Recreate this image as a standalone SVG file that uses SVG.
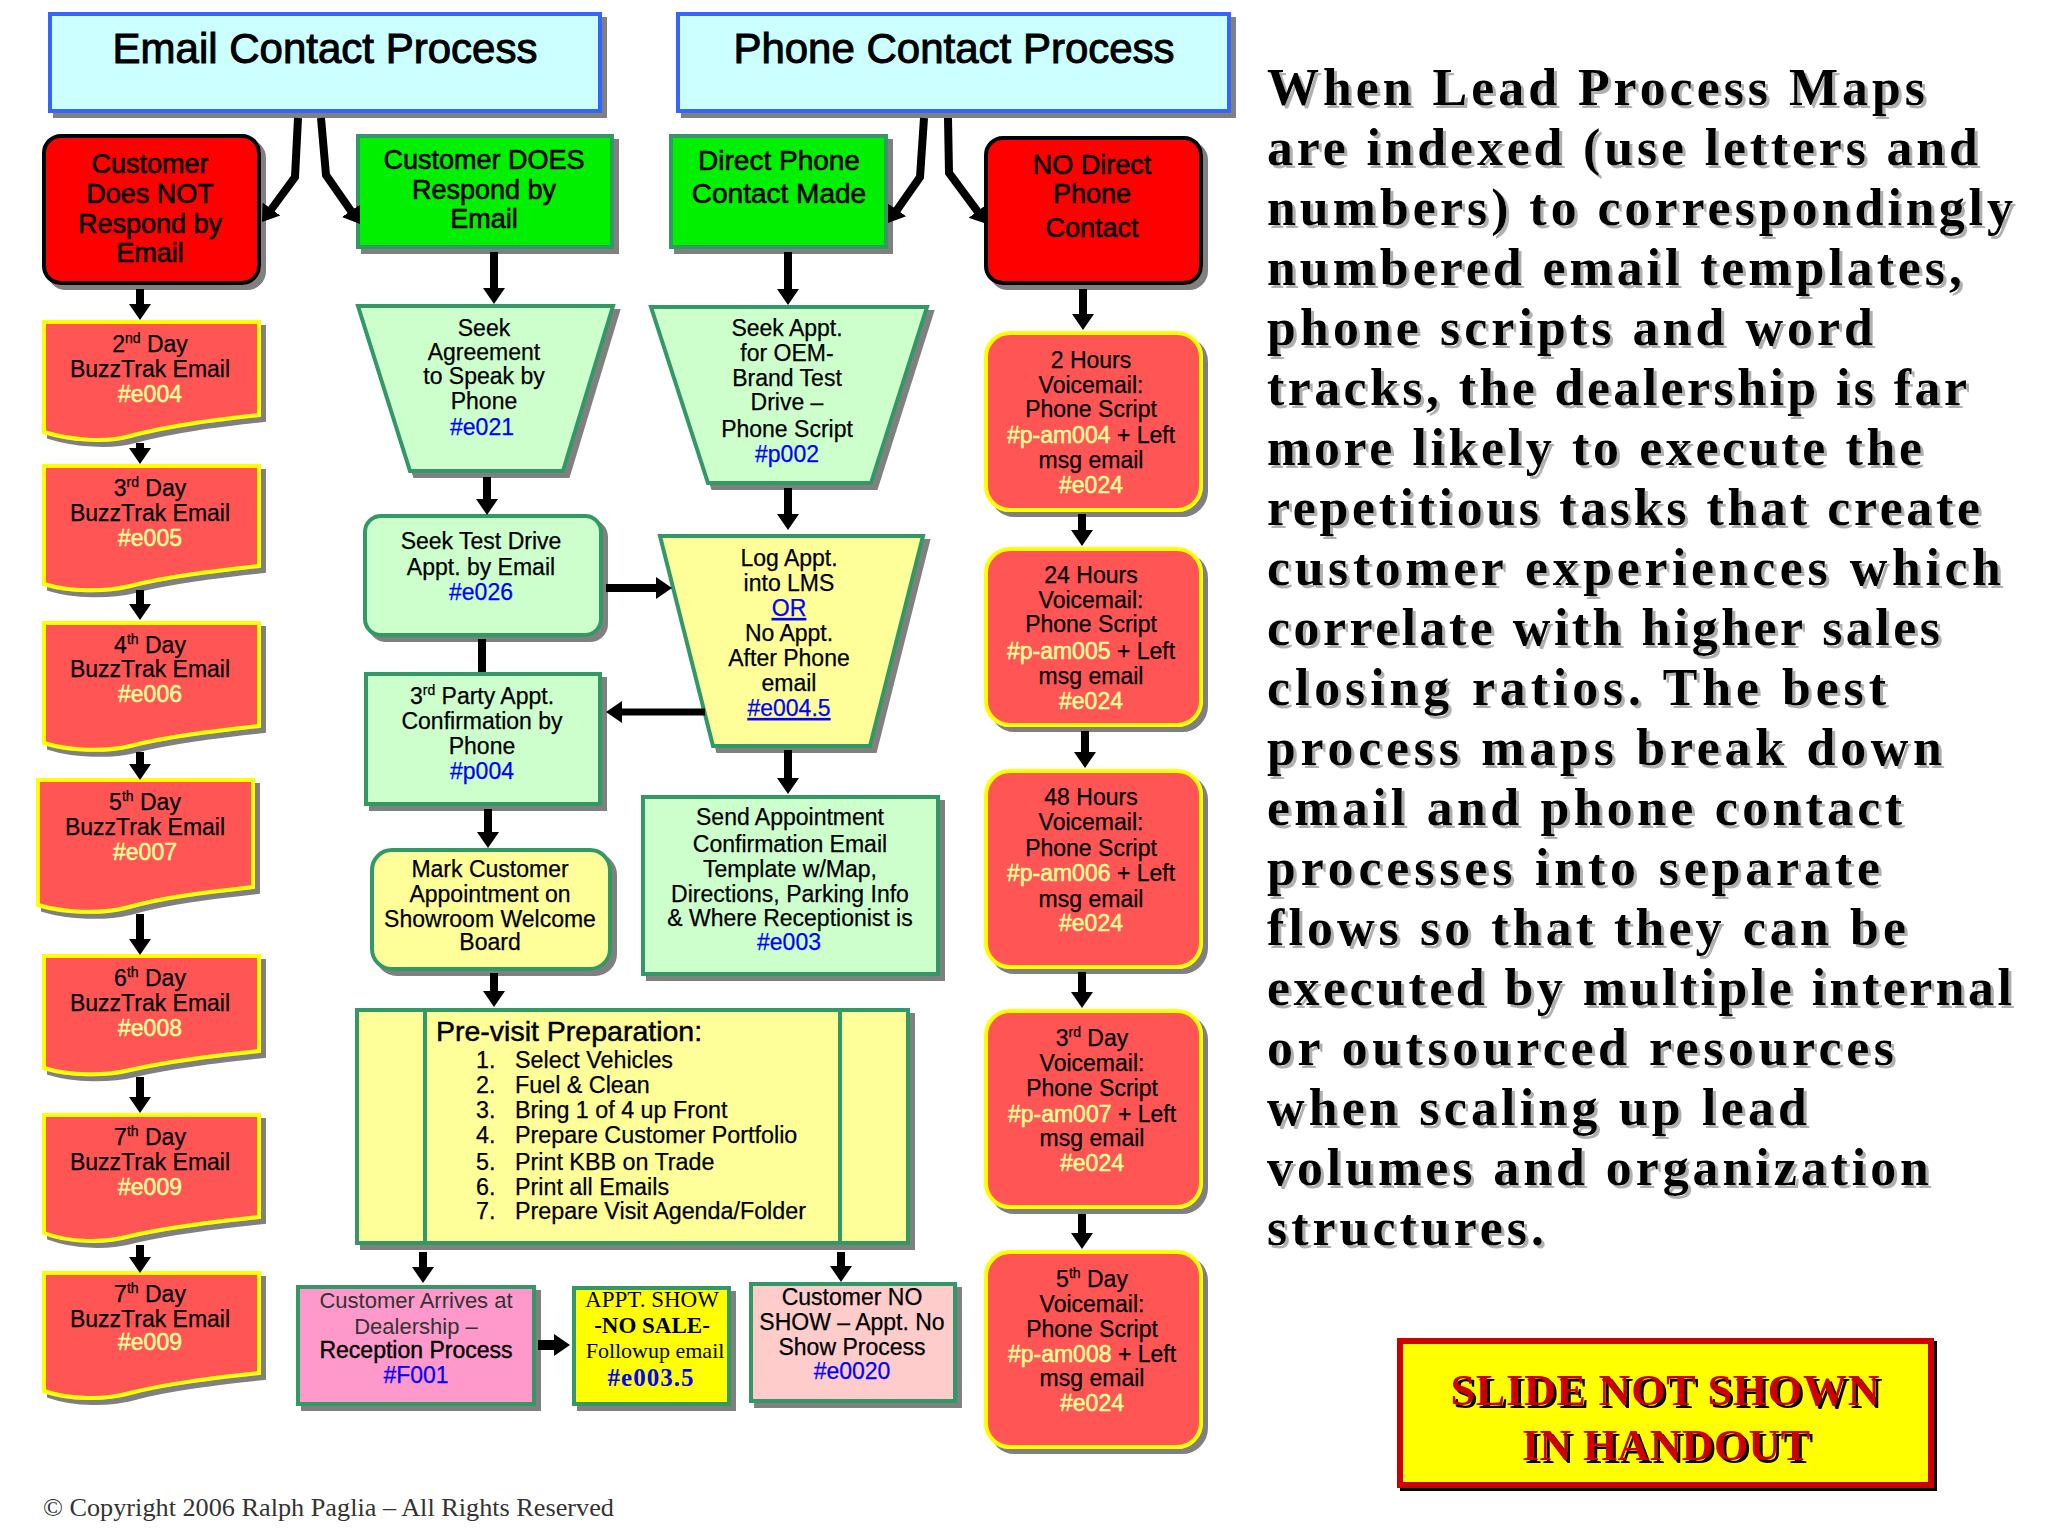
<svg xmlns="http://www.w3.org/2000/svg" width="2048" height="1536" viewBox="0 0 2048 1536">
<defs>
<filter id="sh" x="-10%" y="-10%" width="125%" height="125%"><feDropShadow dx="5" dy="5" stdDeviation="0.7" flood-color="#808080"/></filter>
<filter id="ps" x="-5%" y="-20%" width="110%" height="140%"><feDropShadow dx="3" dy="3" stdDeviation="0.6" flood-color="#b0b0b0"/></filter>
<filter id="bs" x="-5%" y="-20%" width="110%" height="140%"><feDropShadow dx="3" dy="3" stdDeviation="0.2" flood-color="#000000"/></filter>
<marker id="ah" markerUnits="userSpaceOnUse" markerWidth="17" markerHeight="24" viewBox="0 0 17 24" refX="3" refY="12" orient="auto"><path d="M0 1 L16 12 L0 23 Z" fill="#000"/></marker>
</defs>
<style>
text{font-family:"Liberation Sans",Arial,sans-serif;fill:#000}
.t{text-anchor:middle;font-size:23px;stroke:#000;stroke-width:.25}
.b{text-anchor:middle;font-size:27px;stroke:#000;stroke-width:.6}
.h{text-anchor:middle;font-size:42px;stroke:#000;stroke-width:1}
.u{fill:#0000ff;stroke:#0000ff}
.w{fill:#ffff99;stroke:#ffff99;stroke-width:.5}
.l{text-decoration:underline}
.s{font-size:14px}
.hd{fill:#ccffff;stroke:#3366ff;stroke-width:4;filter:url(#sh)}
.rd{fill:#ff0000;stroke:#000;stroke-width:4;filter:url(#sh)}
.gr{fill:#00f000;stroke:#339966;stroke-width:4;filter:url(#sh)}
.mg{fill:#ccffcc;stroke:#339966;stroke-width:4;filter:url(#sh)}
.yl{fill:#ffff99;stroke:#339966;stroke-width:4;filter:url(#sh)}
.dc{fill:#ff5555;stroke:#ffff00;stroke-width:4;filter:url(#sh)}
.sf{font-family:"Liberation Serif","Times New Roman",serif;stroke-width:0}
.p{font-family:"Liberation Serif","Times New Roman",serif;font-weight:bold;font-size:52px}
.c{fill:none;stroke:#000;stroke-width:8;stroke-linejoin:miter}
.a{marker-end:url(#ah)}
</style>
<rect width="2048" height="1536" fill="#ffffff"/>

<g id="email-header"><rect class="hd" x="50" y="14" width="550" height="97"/><text class="h" x="325" y="63">Email Contact Process</text></g>
<g id="phone-header"><rect class="hd" x="678" y="14" width="551" height="97"/><text class="h" x="954" y="63">Phone Contact Process</text></g>

<g id="no-response"><rect class="rd" x="44" y="136" width="215" height="147" rx="17"/>
<text class="b" x="150" y="173">Customer</text><text class="b" x="150" y="203">Does NOT</text><text class="b" x="150" y="233">Respond by</text><text class="b" x="150" y="262">Email</text></g>
<g id="does-respond"><rect class="gr" x="358" y="136" width="254" height="111"/>
<text class="b" x="484" y="169">Customer DOES</text><text class="b" x="484" y="199">Respond by</text><text class="b" x="484" y="228">Email</text></g>
<g id="direct-contact"><rect class="gr" x="671" y="136" width="215" height="111"/>
<text class="b" x="779" y="170" style="font-size:28px">Direct Phone</text><text class="b" x="779" y="203" style="font-size:28px">Contact Made</text></g>
<g id="no-direct"><rect class="rd" x="986" y="138" width="215" height="145" rx="17"/>
<text class="b" x="1092" y="174">NO Direct</text><text class="b" x="1092" y="203">Phone</text><text class="b" x="1092" y="237">Contact</text></g>

<g id="day2"><path class="dc" d="M44 322 H259 V415 C215 420 170 425 130 436 C105 443 70 440 44 432 Z"/>
<text class="t" x="150" y="352">2<tspan class="s" dy="-9">nd</tspan><tspan dy="9"> Day</tspan></text><text class="t" x="150" y="377">BuzzTrak Email</text><text class="t w" x="150" y="402">#e004</text></g>
<g id="day3"><path class="dc" d="M44 466 H259 V566 C215 571 170 576 130 586 C105 592 70 592 44 584 Z"/>
<text class="t" x="150" y="496">3<tspan class="s" dy="-9">rd</tspan><tspan dy="9"> Day</tspan></text><text class="t" x="150" y="521">BuzzTrak Email</text><text class="t w" x="150" y="546">#e005</text></g>
<g id="day4"><path class="dc" d="M44 623 H259 V726 C215 731 170 736 130 746 C105 752 70 751 44 743 Z"/>
<text class="t" x="150" y="653">4<tspan class="s" dy="-9">th</tspan><tspan dy="9"> Day</tspan></text><text class="t" x="150" y="677">BuzzTrak Email</text><text class="t w" x="150" y="702">#e006</text></g>
<g id="day5"><path class="dc" d="M38 780 H253 V887 C208 892 163 897 125 908 C100 914 65 913 38 905 Z"/>
<text class="t" x="145" y="810">5<tspan class="s" dy="-9">th</tspan><tspan dy="9"> Day</tspan></text><text class="t" x="145" y="835">BuzzTrak Email</text><text class="t w" x="145" y="860">#e007</text></g>
<g id="day6"><path class="dc" d="M44 956 H259 V1051 C214 1056 169 1061 130 1070 C105 1076 70 1076 44 1068 Z"/>
<text class="t" x="150" y="986">6<tspan class="s" dy="-9">th</tspan><tspan dy="9"> Day</tspan></text><text class="t" x="150" y="1011">BuzzTrak Email</text><text class="t w" x="150" y="1036">#e008</text></g>
<g id="day7a"><path class="dc" d="M44 1115 H259 V1217 C214 1222 169 1227 130 1236 C105 1243 70 1243 44 1233 Z"/>
<text class="t" x="150" y="1145">7<tspan class="s" dy="-9">th</tspan><tspan dy="9"> Day</tspan></text><text class="t" x="150" y="1170">BuzzTrak Email</text><text class="t w" x="150" y="1195">#e009</text></g>
<g id="day7b"><path class="dc" d="M44 1273 H259 V1373 C214 1378 169 1383 130 1393 C105 1400 70 1400 44 1391 Z"/>
<text class="t" x="150" y="1302">7<tspan class="s" dy="-9">th</tspan><tspan dy="9"> Day</tspan></text><text class="t" x="150" y="1327">BuzzTrak Email</text><text class="t w" x="150" y="1350">#e009</text></g>

<g id="seek-agreement"><polygon class="mg" points="358,306 613,306 563,471 410,471"/>
<text class="t" x="484" y="336">Seek</text><text class="t" x="484" y="360">Agreement</text><text class="t" x="484" y="384">to Speak by</text><text class="t" x="484" y="409">Phone</text><text class="t u" x="482" y="435">#e021</text></g>
<g id="seek-oem"><polygon class="mg" points="651,307 927,307 871,483 708,483"/>
<text class="t" x="787" y="336">Seek Appt.</text><text class="t" x="787" y="361">for OEM-</text><text class="t" x="787" y="386">Brand Test</text><text class="t" x="787" y="410">Drive –</text><text class="t" x="787" y="437">Phone Script</text><text class="t u" x="787" y="462">#p002</text></g>
<g id="seek-test-drive"><rect class="mg" x="365" y="516" width="236" height="119" rx="16"/>
<text class="t" x="481" y="549">Seek Test Drive</text><text class="t" x="481" y="575">Appt. by Email</text><text class="t u" x="481" y="600">#e026</text></g>
<g id="log-appt"><polygon class="yl" points="660,536 923,536 870,746 713,746"/>
<text class="t" x="789" y="566">Log Appt.</text><text class="t" x="789" y="591">into LMS</text><text class="t u l" x="789" y="616">OR</text><text class="t" x="789" y="641">No Appt.</text><text class="t" x="789" y="666">After Phone</text><text class="t" x="789" y="691">email</text><text class="t u l" x="789" y="716">#e004.5</text></g>
<g id="third-party"><rect class="mg" x="366" y="674" width="234" height="130"/>
<text class="t" x="482" y="704">3<tspan class="s" dy="-9">rd</tspan><tspan dy="9"> Party Appt.</tspan></text><text class="t" x="482" y="729">Confirmation by</text><text class="t" x="482" y="754">Phone</text><text class="t u" x="482" y="779">#p004</text></g>
<g id="send-confirmation"><rect class="mg" x="643" y="797" width="295" height="177"/>
<text class="t" x="790" y="825">Send Appointment</text><text class="t" x="790" y="852">Confirmation Email</text><text class="t" x="790" y="877">Template w/Map,</text><text class="t" x="790" y="902">Directions, Parking Info</text><text class="t" x="790" y="926">&amp; Where Receptionist is</text><text class="t u" x="789" y="950">#e003</text></g>
<g id="mark-customer"><rect class="yl" x="372" y="850" width="238" height="119" rx="20"/>
<text class="t" x="490" y="877">Mark Customer</text><text class="t" x="490" y="902">Appointment on</text><text class="t" x="490" y="927">Showroom Welcome</text><text class="t" x="490" y="950">Board</text></g>

<g id="previsit"><rect class="yl" x="357" y="1010" width="551" height="233"/>
<path d="M425 1010 V1243 M840 1010 V1243" fill="none" stroke="#339966" stroke-width="4"/>
<text x="436" y="1041" style="font-size:28.5px;stroke:#000;stroke-width:.5">Pre-visit Preparation:</text>
<g style="font-size:23.3px;stroke:#000;stroke-width:.25">
<text x="476" y="1068">1.</text><text x="515" y="1068">Select Vehicles</text>
<text x="476" y="1093">2.</text><text x="515" y="1093">Fuel &amp; Clean</text>
<text x="476" y="1118">3.</text><text x="515" y="1118">Bring 1 of 4 up Front</text>
<text x="476" y="1143">4.</text><text x="515" y="1143">Prepare Customer Portfolio</text>
<text x="476" y="1170">5.</text><text x="515" y="1170">Print KBB on Trade</text>
<text x="476" y="1195">6.</text><text x="515" y="1195">Print all Emails</text>
<text x="476" y="1219">7.</text><text x="515" y="1219">Prepare Visit Agenda/Folder</text>
</g></g>

<g id="customer-arrives"><rect x="298" y="1287" width="236" height="117" fill="#ff99cc" stroke="#339966" stroke-width="4" style="filter:url(#sh)"/>
<text class="t" x="416" y="1308" style="fill:#333;stroke-width:0;font-size:22px">Customer Arrives at</text><text class="t" x="416" y="1334" style="fill:#333;stroke-width:0;font-size:22px">Dealership –</text><text class="t" x="416" y="1358" style="stroke-width:.4">Reception Process</text><text class="t u" x="416" y="1383">#F001</text></g>
<g id="appt-show"><rect x="574" y="1288" width="155" height="116" fill="#ffff00" stroke="#339966" stroke-width="4" style="filter:url(#sh)"/>
<text class="t sf" x="652" y="1307">APPT. SHOW</text><text class="t sf" x="652" y="1333" style="font-weight:bold">-NO SALE-</text><text class="t sf" x="655" y="1358" style="font-size:22px">Followup email</text><text class="t sf u" x="651" y="1386" style="font-weight:bold;font-size:25px;letter-spacing:1px">#e003.5</text></g>
<g id="no-show"><rect x="751" y="1284" width="204" height="117" fill="#ffcccc" stroke="#339966" stroke-width="4" style="filter:url(#sh)"/>
<text class="t" x="852" y="1305">Customer NO</text><text class="t" x="852" y="1330">SHOW – Appt. No</text><text class="t" x="852" y="1355">Show Process</text><text class="t u" x="852" y="1379">#e0020</text></g>

<g id="vm2h"><rect class="dc" x="986" y="333" width="215" height="177" rx="24"/>
<text class="t" x="1091" y="368">2 Hours</text><text class="t" x="1091" y="393">Voicemail:</text><text class="t" x="1091" y="417">Phone Script</text><text class="t" x="1091" y="443"><tspan class="w">#p-am004</tspan> + Left</text><text class="t" x="1091" y="468">msg email</text><text class="t w" x="1091" y="493">#e024</text></g>
<g id="vm24h"><rect class="dc" x="986" y="549" width="215" height="176" rx="24"/>
<text class="t" x="1091" y="583">24 Hours</text><text class="t" x="1091" y="608">Voicemail:</text><text class="t" x="1091" y="632">Phone Script</text><text class="t" x="1091" y="659"><tspan class="w">#p-am005</tspan> + Left</text><text class="t" x="1091" y="684">msg email</text><text class="t w" x="1091" y="709">#e024</text></g>
<g id="vm48h"><rect class="dc" x="986" y="771" width="215" height="196" rx="24"/>
<text class="t" x="1091" y="805">48 Hours</text><text class="t" x="1091" y="830">Voicemail:</text><text class="t" x="1091" y="856">Phone Script</text><text class="t" x="1091" y="881"><tspan class="w">#p-am006</tspan> + Left</text><text class="t" x="1091" y="907">msg email</text><text class="t w" x="1091" y="931">#e024</text></g>
<g id="vm3d"><rect class="dc" x="986" y="1011" width="215" height="196" rx="24"/>
<text class="t" x="1092" y="1046">3<tspan class="s" dy="-9">rd</tspan><tspan dy="9"> Day</tspan></text><text class="t" x="1092" y="1071">Voicemail:</text><text class="t" x="1092" y="1096">Phone Script</text><text class="t" x="1092" y="1122"><tspan class="w">#p-am007</tspan> + Left</text><text class="t" x="1092" y="1146">msg email</text><text class="t w" x="1092" y="1171">#e024</text></g>
<g id="vm5d"><rect class="dc" x="986" y="1252" width="215" height="195" rx="24"/>
<text class="t" x="1092" y="1287">5<tspan class="s" dy="-9">th</tspan><tspan dy="9"> Day</tspan></text><text class="t" x="1092" y="1312">Voicemail:</text><text class="t" x="1092" y="1337">Phone Script</text><text class="t" x="1092" y="1362"><tspan class="w">#p-am008</tspan> + Left</text><text class="t" x="1092" y="1386">msg email</text><text class="t w" x="1092" y="1411">#e024</text></g>

<g id="connectors">
<path class="c a" d="M298 118 L295 177 L269.7 211.5"/>
<path class="c a" d="M321 118 L326 175 L352.6 213.3"/>
<path class="c a" d="M924 118 L920 177 L895.4 212.3"/>
<path class="c a" d="M948 118 L949 173 L979.2 213.6"/>
<path class="c a" d="M140 289 V307"/>
<path class="c a" d="M140 443 V451"/>
<path class="c a" d="M140 590 V607"/>
<path class="c a" d="M140 752 V767"/>
<path class="c a" d="M140 914 V942"/>
<path class="c a" d="M140 1077 V1100"/>
<path class="c a" d="M140 1245 V1260"/>
<path class="c a" d="M141 1402 V1426" style="filter:url(#sh)"/>
<path class="c a" d="M494 252 V291"/>
<path class="c a" d="M487 477 V502"/>
<path class="c" d="M482 639 V672"/>
<path class="c a" d="M488 809 V835"/>
<path class="c a" d="M494 973 V994"/>
<path class="c a" d="M423 1252 V1270"/>
<path class="c a" d="M841 1252 V1269"/>
<path class="c a" d="M788 252 V292"/>
<path class="c a" d="M788 488 V517"/>
<path class="c a" d="M788 750 V781"/>
<path class="c a" d="M606 588 H659"/>
<path class="c a" d="M705 712 H619" style="stroke-width:7"/>
<path class="c a" d="M538 1345 H557" style="stroke-width:10"/>
<path class="c a" d="M1083 289 V317"/>
<path class="c a" d="M1082 514 V533"/>
<path class="c a" d="M1085 731 V755"/>
<path class="c a" d="M1082 972 V995"/>
<path class="c a" d="M1082 1214 V1236"/>
</g>

<g id="paragraph" style="filter:url(#ps)">
<text class="p" x="1267" y="105" textLength="658">When Lead Process Maps</text>
<text class="p" x="1267" y="165" textLength="711">are indexed (use letters and</text>
<text class="p" x="1267" y="225" textLength="746">numbers) to correspondingly</text>
<text class="p" x="1267" y="285" textLength="695">numbered email templates,</text>
<text class="p" x="1267" y="345" textLength="606">phone scripts and word</text>
<text class="p" x="1267" y="405" textLength="700">tracks, the dealership is far</text>
<text class="p" x="1267" y="465" textLength="655">more likely to execute the</text>
<text class="p" x="1267" y="525" textLength="713">repetitious tasks that create</text>
<text class="p" x="1267" y="585" textLength="734">customer experiences which</text>
<text class="p" x="1267" y="645" textLength="673">correlate with higher sales</text>
<text class="p" x="1267" y="705" textLength="619">closing ratios.  The best</text>
<text class="p" x="1267" y="765" textLength="675">process maps break down</text>
<text class="p" x="1267" y="825" textLength="635">email and phone contact</text>
<text class="p" x="1267" y="885" textLength="613">processes into separate</text>
<text class="p" x="1267" y="945" textLength="639">flows so that they can be</text>
<text class="p" x="1267" y="1005" textLength="745">executed by multiple internal</text>
<text class="p" x="1267" y="1065" textLength="627">or outsourced resources</text>
<text class="p" x="1267" y="1125" textLength="540">when scaling up lead</text>
<text class="p" x="1267" y="1185" textLength="662">volumes and organization</text>
<text class="p" x="1267" y="1245" textLength="277">structures.</text>
</g>

<g id="slide-not-shown"><rect x="1400" y="1341" width="531" height="144" fill="#ffff00" stroke="#cc0000" stroke-width="6" style="filter:url(#bs)"/>
<g style="filter:url(#bs)"><text class="sf" x="1665" y="1405" text-anchor="middle" style="fill:#cc0000;font-weight:bold;font-size:44px" textLength="429">SLIDE NOT SHOWN</text>
<text class="sf" x="1666" y="1460" text-anchor="middle" style="fill:#cc0000;font-weight:bold;font-size:44px" textLength="288">IN HANDOUT</text></g></g>

<g id="copyright"><text class="sf" x="43" y="1516" style="font-size:25px;fill:#333" textLength="571" lengthAdjust="spacingAndGlyphs">© Copyright 2006 Ralph Paglia – All Rights Reserved</text></g>
</svg>
